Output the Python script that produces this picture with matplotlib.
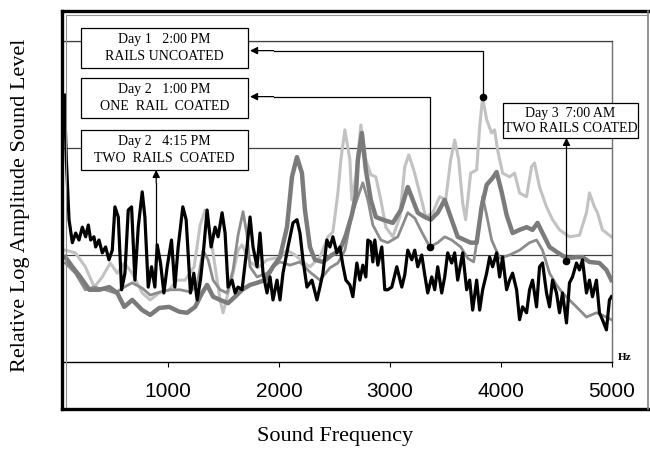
import matplotlib
matplotlib.use("agg")
import matplotlib.pyplot as plt
from matplotlib.lines import Line2D
from matplotlib.patches import Rectangle

plt.rcParams['font.family'] = 'Liberation Serif'

# Day 1 2:00 PM, rails uncoated (light grey)
day1_hz = [72, 162, 252, 333, 405, 477, 540, 603, 675, 765, 837, 918, 1008, 1080, 1152, 1233,
           1287, 1332, 1377, 1422, 1467, 1494, 1539, 1584, 1629, 1665, 1737, 1809, 1890, 2007,
           2070, 2142, 2214, 2277, 2367, 2439, 2484, 2529, 2556, 2592, 2637, 2655, 2691, 2736,
           2781, 2826, 2871, 2916, 2961, 3024, 3087, 3132, 3168, 3213, 3267, 3321, 3384, 3447,
           3501, 3546, 3582, 3618, 3654, 3681, 3726, 3780, 3807, 3834, 3870, 3915, 3942, 3969,
           4014, 4077, 4122, 4167, 4230, 4275, 4302, 4347, 4410, 4464, 4527, 4617, 4707, 4770,
           4797, 4842, 4869, 4914, 4995]
day1_lvl = [20.9, 20.4, 17.8, 14.0, 15.9, 18.5, 16.6, 18.5, 16.6, 12.9, 11.6, 12.9, 13.5, 15.3, 15.3, 17.8,
            25.6, 28.4, 24.1, 17.8, 11.6, 9.2, 12.9, 16.6, 20.9, 21.9, 18.7, 17.6, 19.1, 19.6,
            20.9, 20.0, 18.7, 17.8, 19.6, 23.4, 24.3, 31.6, 37.8, 43.4, 37.8, 30.3, 34.6, 44.3,
            37.8, 35.0, 34.6, 30.3, 25.2, 23.4, 27.1, 36.5, 38.7, 35.9, 31.6, 27.1, 27.9, 30.9,
            30.3, 37.8, 41.5, 37.8, 29.7, 26.6, 35.3, 35.9, 43.9, 49.5, 45.3, 42.8, 43.4, 39.6,
            35.3, 34.6, 35.3, 31.6, 30.9, 36.5, 37.2, 32.7, 29.0, 26.6, 24.7, 23.4, 23.7, 27.9,
            31.6, 29.0, 27.9, 24.7, 23.4]

# Day 2 1:00 PM, one rail coated (grey)
day2a_hz = [72, 162, 252, 333, 432, 522, 603, 675, 765, 837, 927, 1017, 1107, 1197, 1260, 1314,
            1359, 1404, 1467, 1530, 1584, 1629, 1674, 1710, 1737, 1800, 1890, 1944, 2007, 2097,
            2187, 2277, 2367, 2457, 2529, 2592, 2655, 2700, 2754, 2799, 2844, 2916, 2979, 3069,
            3159, 3222, 3285, 3357, 3429, 3492, 3555, 3636, 3699, 3753, 3798, 3834, 3870, 3915,
            3987, 4077, 4167, 4257, 4320, 4374, 4437, 4500, 4554, 4617, 4680, 4770, 4860, 4950, 4995]
day2a_lvl = [18.5, 16.6, 13.5, 14.0, 13.5, 12.9, 14.0, 14.8, 13.8, 12.5, 13.1, 13.5, 13.5, 13.1, 14.4, 20.9,
             19.1, 15.3, 13.5, 12.9, 17.2, 23.7, 28.1, 23.7, 17.8, 15.9, 16.6, 17.8, 18.7, 18.1,
             18.7, 16.8, 15.3, 17.6, 18.5, 20.9, 27.5, 30.3, 33.5, 30.3, 25.6, 22.8, 22.3, 23.4,
             27.9, 26.9, 24.3, 21.5, 22.3, 23.4, 22.8, 21.5, 19.4, 18.7, 24.7, 30.9, 27.5, 22.8,
             19.4, 20.0, 20.9, 22.3, 22.8, 20.9, 16.6, 14.4, 12.9, 11.6, 10.3, 8.4, 9.2, 8.4, 7.9]

# Day 2 4:15 PM, two rails coated (black)
day2b_hz = [63, 81, 105, 135, 165, 195, 225, 255, 279, 300, 330, 345, 375, 405, 435, 465, 495, 519,
            549, 579, 609, 639, 669, 699, 729, 765, 789, 819, 849, 879, 900, 930, 960, 990, 1029,
            1059, 1089, 1131, 1161, 1200, 1230, 1260, 1290, 1314, 1350, 1386, 1422, 1449, 1485,
            1512, 1539, 1575, 1602, 1629, 1665, 1710, 1737, 1764, 1800, 1827, 1854, 1890, 1917,
            1944, 1980, 2007, 2034, 2079, 2124, 2160, 2187, 2214, 2250, 2295, 2340, 2367, 2394,
            2430, 2457, 2484, 2520, 2547, 2574, 2601, 2637, 2664, 2700, 2727, 2754, 2781, 2799,
            2826, 2844, 2862, 2889, 2925, 2952, 2979, 3015, 3060, 3105, 3132, 3159, 3195, 3222,
            3249, 3285, 3312, 3339, 3375, 3402, 3429, 3465, 3492, 3519, 3555, 3582, 3609, 3654,
            3690, 3717, 3744, 3780, 3807, 3834, 3870, 3897, 3924, 3960, 3987, 4014, 4050, 4077,
            4104, 4140, 4167, 4194, 4230, 4257, 4284, 4320, 4347, 4374, 4410, 4437, 4464, 4500,
            4527, 4554, 4590, 4617, 4644, 4680, 4707, 4734, 4770, 4797, 4824, 4860, 4887, 4914,
            4950, 4977, 4995]
day2b_lvl = [49.9, 37.8, 26.6, 22.3, 24.1, 22.8, 25.2, 23.4, 25.6, 22.8, 23.4, 21.5, 22.8, 20.4, 21.5, 19.1, 20.9, 29.0,
             27.1, 13.5, 16.6, 28.4, 29.0, 15.3, 25.2, 31.8, 27.1, 14.0, 17.8, 14.0, 21.9, 18.5, 12.9, 17.8, 22.8,
             14.0, 21.5, 29.0, 26.6, 12.9, 16.6, 11.6, 15.3, 20.0, 28.4, 21.5, 25.2, 23.4, 27.9,
             24.1, 14.0, 15.3, 12.9, 14.0, 13.5, 21.5, 27.1, 21.5, 17.8, 24.1, 16.6, 12.9, 15.9,
             11.6, 15.3, 11.6, 16.6, 21.5, 26.0, 26.6, 24.1, 19.1, 14.0, 15.3, 11.6, 14.0, 16.6,
             22.8, 21.5, 23.4, 20.4, 21.5, 18.1, 15.3, 14.4, 12.2, 18.5, 15.3, 18.1, 15.9, 22.8,
             22.4, 18.7, 22.8, 18.1, 21.5, 13.5, 13.5, 14.0, 17.8, 14.0, 16.3, 20.9, 19.1, 20.9,
             17.8, 20.0, 16.3, 12.9, 15.9, 13.5, 17.8, 12.9, 15.9, 20.4, 18.5, 20.4, 15.3, 20.4,
             13.5, 15.3, 9.7, 15.3, 9.7, 13.5, 16.6, 19.6, 17.8, 20.4, 15.9, 19.6, 13.5, 15.3,
             16.6, 13.5, 7.9, 10.3, 9.2, 13.5, 15.3, 10.3, 17.8, 18.5, 12.9, 10.3, 15.3, 12.9,
             9.2, 12.9, 7.3, 14.8, 15.9, 18.5, 17.2, 19.1, 12.9, 15.3, 12.2, 15.3, 9.2, 7.9,
             6.0, 11.6, 12.2]

# Day 3 7:00 AM, two rails coated (thick grey)
day3_hz = [72, 135, 207, 288, 378, 468, 540, 603, 675, 765, 837, 918, 1008, 1098, 1170, 1242,
           1305, 1350, 1404, 1467, 1539, 1602, 1665, 1737, 1800, 1872, 1944, 2007, 2070, 2115,
           2160, 2205, 2232, 2277, 2322, 2394, 2475, 2547, 2601, 2655, 2691, 2709, 2745, 2781,
           2826, 2871, 2934, 3024, 3096, 3159, 3204, 3249, 3312, 3366, 3429, 3492, 3546, 3609,
           3672, 3726, 3780, 3825, 3870, 3924, 3960, 4005, 4050, 4104, 4167, 4230, 4284, 4329,
           4374, 4437, 4500, 4590, 4680, 4734, 4797, 4887, 4950, 4995]
day3_lvl = [19.6, 17.8, 15.9, 13.5, 13.5, 14.0, 12.9, 10.3, 11.6, 9.7, 8.8, 10.1, 10.3, 9.4, 9.2, 10.3,
            12.9, 14.4, 12.2, 11.6, 11.0, 12.2, 13.5, 14.4, 14.8, 15.3, 17.8, 19.6, 25.2, 34.6,
            38.3, 35.3, 28.4, 21.5, 19.1, 18.7, 20.0, 20.9, 23.7, 27.5, 31.2, 37.8, 42.8, 35.9,
            30.3, 27.1, 26.6, 26.0, 28.4, 32.7, 30.3, 27.9, 27.1, 26.6, 27.9, 30.3, 27.1, 23.4,
            22.8, 22.3, 22.3, 29.0, 33.1, 34.4, 35.5, 31.8, 27.5, 24.1, 24.7, 25.2, 24.7, 26.0,
            24.1, 21.5, 20.6, 19.4, 19.6, 19.6, 18.7, 18.5, 17.2, 15.3]

xticks = [1000, 2000, 3000, 4000, 5000]

fig = plt.figure(figsize=(6.5, 4.49), dpi=100)
ax = fig.add_axes([0.0985, 0.1938, 0.843, 0.7149])

ax.plot(day1_hz, day1_lvl, color='#c2c2c2', lw=2.2, zorder=2)
ax.plot(day2a_hz, day2a_lvl, color='#8c8c8c', lw=2.0, zorder=3)
ax.plot(day3_hz, day3_lvl, color='#7b7b7b', lw=3.2, zorder=4)
ax.plot(day2b_hz, day2b_lvl, color='black', lw=2.3, zorder=5)

ax.set_xlim(60, 5000)
ax.set_ylim(0, 60)
ax.set_xticks(xticks)
ax.set_xticklabels([str(t) for t in xticks], family='Liberation Sans')
ax.set_yticks([20, 40, 60])
ax.tick_params(axis='x', direction='out', length=3.6, width=0.8, pad=11, labelsize=15)
ax.tick_params(axis='y', left=False, labelleft=False)
ax.yaxis.grid(True, color='#404040', lw=0.9)
ax.spines['left'].set_visible(False)
ax.spines['top'].set_color('#404040')
ax.spines['top'].set_linewidth(0.9)
ax.spines['right'].set_color('#707070')
ax.spines['right'].set_linewidth(1.0)
ax.spines['bottom'].set_linewidth(1.0)


def label_box(x0, x1, y0, y1, line1, line2):
    ax.add_patch(Rectangle((x0, y0), x1 - x0, y1 - y0, facecolor='white', edgecolor='black',
                           lw=0.9, zorder=6, clip_on=False))
    xc = (x0 + x1) / 2
    h = y1 - y0
    ax.text(xc, y0 + h * 0.70, line1, ha='center', va='center', fontsize=10, zorder=7)
    ax.text(xc, y0 + h * 0.28, line2, ha='center', va='center', fontsize=10, zorder=7)


def leader(points, head, dot=True):
    xs = [p[0] for p in points]
    ys = [p[1] for p in points]
    ax.plot(xs, ys, color='black', lw=0.9, zorder=6, clip_on=False)
    ax.annotate('', xy=head, xytext=points[-1],
                arrowprops=dict(arrowstyle='-|>', color='black', lw=0.9, mutation_scale=11,
                                shrinkA=0, shrinkB=0), annotation_clip=False, zorder=6)
    if dot:
        ax.plot(points[0][0], points[0][1], 'o', ms=4.5, color='black', zorder=7, clip_on=False)


label_box(210, 1720, 55.0, 62.5, 'Day 1   2:00 PM', 'RAILS UNCOATED')
label_box(210, 1720, 45.6, 53.1, 'Day 2   1:00 PM', 'ONE  RAIL  COATED')
label_box(210, 1720, 35.9, 43.4, 'Day 2   4:15 PM', 'TWO  RAILS  COATED')
label_box(4014, 5238, 41.9, 48.4, 'Day 3  7:00 AM', 'TWO RAILS COATED')

leader([(3834, 49.6), (3834, 58.2), (1950, 58.2)], (1737, 58.2))
leader([(3357, 21.5), (3357, 49.6), (1950, 49.6)], (1737, 49.6))
leader([(891, 21.9), (891, 33.5)], (891, 35.9), dot=False)
leader([(4590, 18.9), (4590, 39.5)], (4590, 41.9))

ax.text(5115, 0.9, 'Hz', fontsize=8, fontweight='bold', ha='center', va='center', clip_on=False)

fig.text(0.515, 0.027, 'Sound Frequency', ha='center', va='center', fontsize=16)
fig.text(0.031, 0.543, 'Relative Log Amplitude Sound Level', ha='center', va='center',
         rotation=90, fontsize=16)

# chart frame
L, R, T, B = 0.0954, 0.9969, 0.9755, 0.0891
fig.add_artist(Line2D([L, L], [B, T], transform=fig.transFigure, color='black', lw=2.4))
fig.add_artist(Line2D([L, R], [T, T], transform=fig.transFigure, color='black', lw=2.4))
fig.add_artist(Line2D([L, R], [B, B], transform=fig.transFigure, color='black', lw=2.4))
fig.add_artist(Line2D([R, R], [B, T], transform=fig.transFigure, color='#808080', lw=1.2))
fig.add_artist(Line2D([0.1008, 0.1008], [0.0935, 0.9677], transform=fig.transFigure,
                      color='#909090', lw=0.8))
fig.add_artist(Line2D([0.1008, 0.994], [0.9677, 0.9677], transform=fig.transFigure,
                      color='#909090', lw=0.8))

fig.savefig('out.png', dpi=100)
